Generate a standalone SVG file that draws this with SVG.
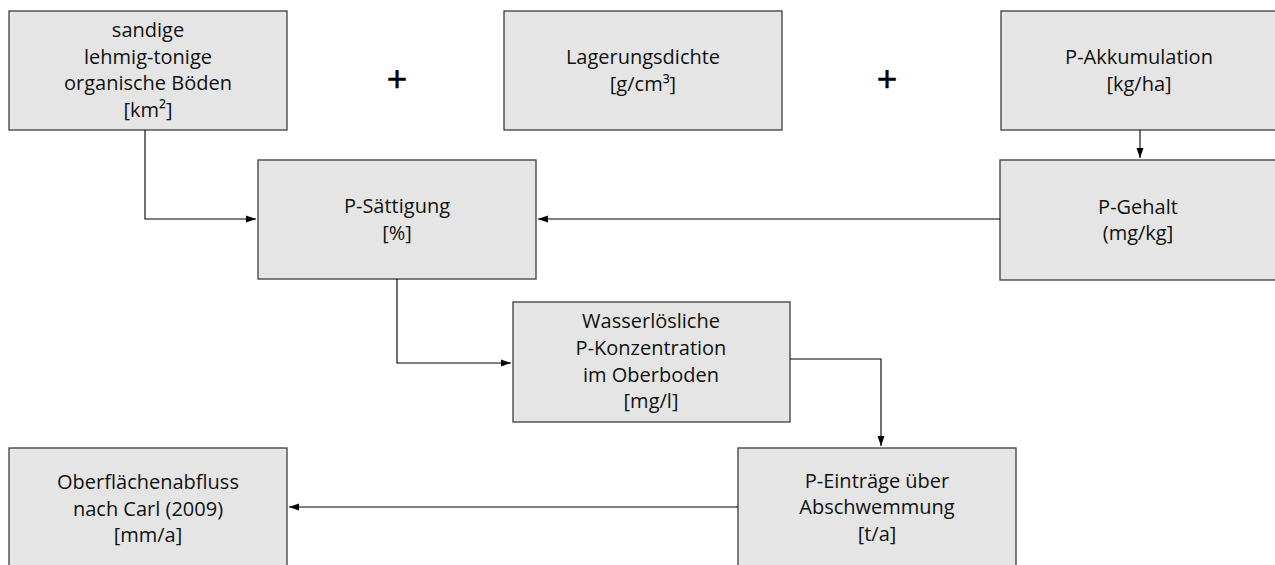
<svg xmlns="http://www.w3.org/2000/svg" width="1275" height="565" viewBox="0 0 1275 565">
<style>
.box{fill:#e5e5e5;stroke:#3c3c3c;stroke-width:1.3}
.t{font-family:"Open Sans","Liberation Sans",sans-serif;font-size:20px;fill:#111;text-anchor:middle}
.plus{font-family:"Open Sans","Liberation Sans",sans-serif;font-size:36px;fill:#000;stroke:#000;stroke-width:0.6;text-anchor:middle}
.c{fill:none;stroke:#000;stroke-width:1.1}
</style>
<defs>
<marker id="ah" markerWidth="11" markerHeight="8" refX="10" refY="4" orient="auto" markerUnits="userSpaceOnUse">
<path d="M0,0.5 L10,4 L0,7.5 Z" fill="#000"/>
</marker>
</defs>
<rect width="1275" height="565" fill="#fff"/>
<g id="n1"><rect class="box" x="9" y="11" width="278" height="119"/>
<text class="t"><tspan x="148" y="37">sandige</tspan><tspan x="148" y="63.5">lehmig-tonige</tspan><tspan x="148" y="90">organische Böden</tspan><tspan x="148" y="116.5">[km²]</tspan></text></g>
<g id="n2"><rect class="box" x="504" y="11" width="278" height="119"/>
<text class="t"><tspan x="643" y="64">Lagerungsdichte</tspan><tspan x="643" y="90.5">[g/cm³]</tspan></text></g>
<g id="n3"><rect class="box" x="1001" y="11" width="280" height="119"/>
<text class="t"><tspan x="1139" y="64">P-Akkumulation</tspan><tspan x="1139" y="90.5">[kg/ha]</tspan></text></g>
<g id="n4"><rect class="box" x="258" y="160" width="278" height="119"/>
<text class="t"><tspan x="397" y="213">P-Sättigung</tspan><tspan x="397" y="239.5">[%]</tspan></text></g>
<g id="n5"><rect class="box" x="1000" y="160" width="281" height="120"/>
<text class="t"><tspan x="1138" y="213.5">P-Gehalt</tspan><tspan x="1138" y="240">(mg/kg]</tspan></text></g>
<g id="n6"><rect class="box" x="513" y="302" width="277" height="120"/>
<text class="t"><tspan x="651" y="328">Wasserlösliche</tspan><tspan x="651" y="355">P-Konzentration</tspan><tspan x="651" y="381.5">im Oberboden</tspan><tspan x="651" y="408">[mg/l]</tspan></text></g>
<g id="n7"><rect class="box" x="9" y="448" width="278" height="122"/>
<text class="t"><tspan x="148" y="489">Oberflächenabfluss</tspan><tspan x="148" y="515.5">nach Carl (2009)</tspan><tspan x="148" y="542">[mm/a]</tspan></text></g>
<g id="n8"><rect class="box" x="738" y="448" width="278" height="122"/>
<text class="t"><tspan x="877" y="487.5">P-Einträge über</tspan><tspan x="877" y="514">Abschwemmung</tspan><tspan x="877" y="540.5">[t/a]</tspan></text></g>
<g id="plus1"><text class="plus" x="397" y="92">+</text></g>
<g id="plus2"><text class="plus" x="887" y="92">+</text></g>
<g id="connectors">
<path class="c" d="M145,130 V219 H256" marker-end="url(#ah)"/>
<path class="c" d="M1140,130 V158" marker-end="url(#ah)"/>
<path class="c" d="M1000,219 H538" marker-end="url(#ah)"/>
<path class="c" d="M397,279 V363 H511" marker-end="url(#ah)"/>
<path class="c" d="M790,359 H881 V446" marker-end="url(#ah)"/>
<path class="c" d="M738,507 H289" marker-end="url(#ah)"/>
</g>
</svg>
